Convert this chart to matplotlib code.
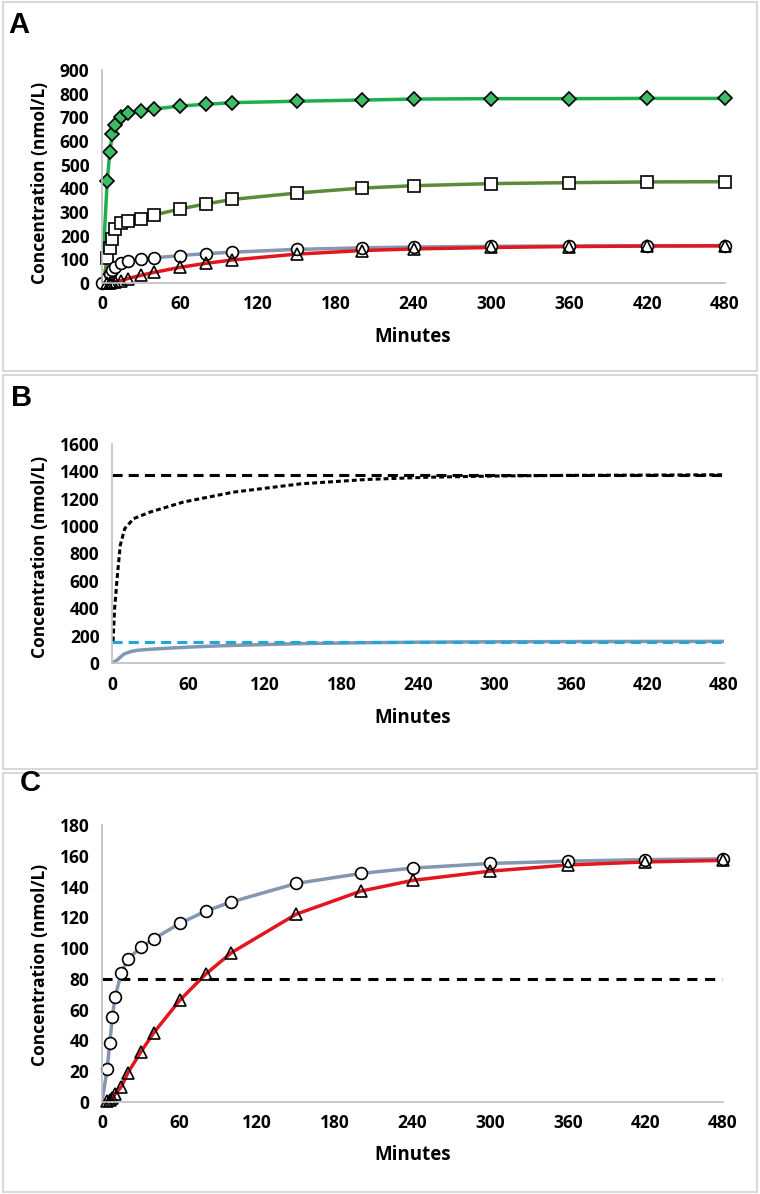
import matplotlib
matplotlib.use("Agg")
import matplotlib.pyplot as plt
from matplotlib.patches import Rectangle

plt.rcParams['font.family'] = ['Open Sans', 'DejaVu Sans']
plt.rcParams['font.weight'] = 'bold'

W, H = 760, 1194

# sampling times (minutes)
times = [4, 6, 8, 10, 15, 20, 30, 40, 60, 80, 100, 150, 200, 240, 300, 360, 420, 480]

# panel A / C observed values (nmol/L)
diamond_vals = [429, 553, 629, 668, 700, 717, 727, 735, 748, 755, 762, 768, 773, 777, 779, 779, 780, 780]
square_vals = [106, 147, 185, 227, 252, 262, 269, 287, 313, 334, 353, 380, 401, 411, 420, 424, 427, 428]
circle_vals = [21.6, 38.3, 55, 68, 84, 93, 100.4, 106, 116, 124, 130, 142, 148.5, 152, 155, 156.5, 157.5, 158]
triangle_vals = [0.4, 1, 2.6, 5, 10, 19, 32.5, 45, 66, 83, 97, 122, 137, 144, 150, 154, 156, 157]

# model curve starting points
green_start = (1, 118)
olive_start = (2, 35)
origin = (0, 0)

# panel B
b_curve_t = [0.8, 2, 4, 6.5, 10, 17, 30, 56, 95, 148, 200, 247, 300, 360, 420, 480]
b_curve_v = [158, 390, 618, 861, 982, 1055, 1103, 1176, 1248, 1309, 1341, 1357, 1366, 1371, 1373, 1375]
b_black_level = 1375
b_blue_level = 153
c_black_level = 80

x_ticks = [0, 60, 120, 180, 240, 300, 360, 420, 480]

GREEN = '#1fae4e'
OLIVE = '#5b8a3a'
GRAYBLUE = '#8497b0'
RED = '#e3151d'
BLUE = '#23a4dc'
AXIS = '#bfbfbf'


def fx(px):
    return px / W


def fy(py):
    return 1 - py / H


fig = plt.figure(figsize=(W / 100, H / 100), dpi=100)

# panel frames
for top, bottom in [(2, 371), (375, 769), (773, 1192)]:
    fig.patches.append(Rectangle((fx(3), fy(bottom)), fx(754), (bottom - top) / H,
                                 transform=fig.transFigure, fill=False,
                                 edgecolor='#d9d9d9', linewidth=1.5))


def make_axes(x0, x1, y0px, y1px, ymax, ystep):
    ax = fig.add_axes([fx(x0), fy(y0px), fx(x1 - x0), (y0px - y1px) / H])
    ax.set_xlim(0, 480)
    ax.set_ylim(0, ymax)
    ax.set_xticks(x_ticks)
    ax.set_yticks(range(0, ymax + 1, ystep))
    for s in ['top', 'right']:
        ax.spines[s].set_visible(False)
    for s in ['left', 'bottom']:
        ax.spines[s].set_color(AXIS)
        ax.spines[s].set_linewidth(1.2)
    ax.tick_params(length=0, labelsize=12.5, pad=9)
    for lab in ax.get_xticklabels() + ax.get_yticklabels():
        lab.set_fontweight('bold')
    return ax


def labels(ax_letter, letter_xy, ylab_y, min_y):
    fig.text(fx(letter_xy[0]), fy(letter_xy[1]), ax_letter, fontsize=21, fontweight='bold',
             family='Liberation Sans', ha='center', va='center')
    fig.text(fx(40), fy(ylab_y), 'Concentration (nmol/L)', rotation=90, fontsize=12.5,
             fontweight='bold', ha='center', va='center')
    fig.text(fx(413), fy(min_y), 'Minutes', fontsize=13.5, fontweight='bold',
             ha='center', va='center')


mk = dict(markeredgecolor='black', markeredgewidth=1.2, linestyle='none', clip_on=False)

# ---- Panel A
axA = make_axes(102, 725, 283, 70, 900, 100)
axA.plot([green_start[0]] + times, [green_start[1]] + diamond_vals, color=GREEN, lw=2.5)
axA.plot([olive_start[0]] + times, [olive_start[1]] + square_vals, color=OLIVE, lw=2.5)
axA.plot([origin[0]] + times, [origin[1]] + circle_vals, color=GRAYBLUE, lw=2.5)
axA.plot([origin[0]] + times, [origin[1]] + triangle_vals, color=RED, lw=2.5)
axA.plot(times, diamond_vals, marker='D', markersize=7, markerfacecolor='#3dbb65', **mk)
axA.plot(times, square_vals, marker='s', markersize=8, markerfacecolor='white', **mk)
axA.plot([0] + times, [0] + circle_vals, marker='o', markersize=8.5, markerfacecolor='white', **mk)
axA.plot(times, triangle_vals, marker='^', markersize=8.5, markerfacecolor='none', **mk)
labels('A', (19, 25), 183, 337)

# ---- Panel B
axB = make_axes(112, 724, 663, 444, 1600, 200)
axB.axhline(b_black_level, color='black', lw=2.2, dashes=(3.3, 2))
axB.plot(b_curve_t, b_curve_v, color='black', lw=2.2, dashes=(1.6, 1.0))
axB.plot([origin[0]] + times, [origin[1]] + circle_vals, color=GRAYBLUE, lw=2.5)
axB.axhline(b_blue_level, color=BLUE, lw=2.2, dashes=(3.3, 2))
labels('B', (22, 398), 557, 718)

# ---- Panel C
axC = make_axes(102, 723, 1102, 825, 180, 20)
axC.axhline(c_black_level, color='black', lw=2.2, dashes=(3.3, 2.5))
axC.plot([origin[0]] + times, [origin[1]] + circle_vals, color=GRAYBLUE, lw=2.5)
axC.plot([origin[0]] + times, [origin[1]] + triangle_vals, color=RED, lw=2.5)
axC.plot(times, circle_vals, marker='o', markersize=8.5, markerfacecolor='white', **mk)
axC.plot(times, triangle_vals, marker='^', markersize=8.5, markerfacecolor='none', **mk)
labels('C', (30, 783), 965, 1155)

fig.savefig('out.png', dpi=100)
